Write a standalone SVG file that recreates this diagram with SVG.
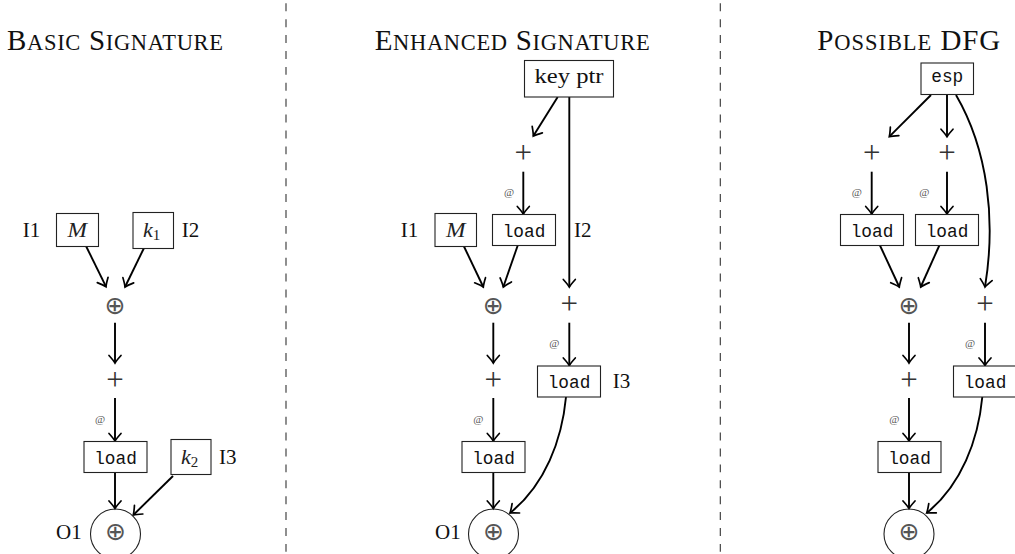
<svg xmlns="http://www.w3.org/2000/svg" width="1015" height="554" viewBox="0 0 1015 554">
<style>
.bx{fill:#fff;stroke:#222;stroke-width:1.1}
.ci{fill:none;stroke:#222;stroke-width:1.1}
.ar{fill:none;stroke:#000;stroke-width:1.9;marker-end:url(#ah)}
.sep{stroke:#333;stroke-width:1.1;stroke-dasharray:7.95 7.95}
.lb{font-family:"Liberation Serif","Times New Roman",serif;font-size:21px;fill:#111}
.ti{font-family:"Liberation Serif","Times New Roman",serif;fill:#111}
.big{font-size:29px}
.sm{font-size:22.5px}
.mi{font-family:"Liberation Serif","Times New Roman",serif;font-style:italic;font-size:22px;fill:#222}
.tt{font-family:"Liberation Mono","Courier New",monospace;font-size:17.8px;fill:#111;text-anchor:middle}
.rm{font-family:"Liberation Serif","Times New Roman",serif;font-size:22px;fill:#111;text-anchor:middle}
.pl{font-family:"Liberation Serif","Times New Roman",serif;font-size:31px;fill:#333;text-anchor:middle}
.op{font-family:"DejaVu Sans",sans-serif;font-size:25px;fill:#555;text-anchor:middle}
.at{font-family:"Liberation Serif","Times New Roman",serif;font-size:11px;fill:#555;text-anchor:middle}
</style>
<defs>
<marker id="ah" markerUnits="userSpaceOnUse" markerWidth="20" markerHeight="20" viewBox="-10 -10 20 20" refX="0" refY="0" orient="auto">
<path d="M-7.5,-6 Q-2.5,-1.5 0,0 Q-2.5,1.5 -7.5,6" fill="none" stroke="#000" stroke-width="1.7" stroke-linecap="round"/>
</marker>
</defs>

<g id="separators">
<line class="sep" x1="286" y1="3.3" x2="286" y2="554"/>
<line class="sep" x1="720.3" y1="3.3" x2="720.3" y2="554"/>
</g>

<g id="titles">
<text class="ti" x="7" y="50" textLength="216"><tspan class="big">B</tspan><tspan class="sm">ASIC</tspan><tspan class="big"> S</tspan><tspan class="sm">IGNATURE</tspan></text>
<text class="ti" x="374.7" y="50" textLength="275"><tspan class="big">E</tspan><tspan class="sm">NHANCED</tspan><tspan class="big"> S</tspan><tspan class="sm">IGNATURE</tspan></text>
<text class="ti" x="817.3" y="50" textLength="183"><tspan class="big">P</tspan><tspan class="sm">OSSIBLE</tspan><tspan class="big"> DFG</tspan></text>
</g>

<g id="connectors">
<!-- left -->
<line class="ar" x1="86" y1="246" x2="106" y2="286.7"/>
<line class="ar" x1="144" y1="248" x2="125" y2="287"/>
<line class="ar" x1="115" y1="322.7" x2="115" y2="363"/>
<line class="ar" x1="115" y1="398" x2="115" y2="441"/>
<line class="ar" x1="115" y1="472.5" x2="115" y2="508.5"/>
<line class="ar" x1="173" y1="476" x2="133.3" y2="515"/>
<!-- middle -->
<line class="ar" x1="557.7" y1="97" x2="533.3" y2="136"/>
<line class="ar" x1="523.3" y1="171.7" x2="523.3" y2="214"/>
<line class="ar" x1="569.3" y1="97" x2="569.3" y2="287"/>
<line class="ar" x1="464" y1="246.5" x2="483.3" y2="287"/>
<line class="ar" x1="517.7" y1="245.5" x2="503.3" y2="287"/>
<line class="ar" x1="493.3" y1="322.7" x2="493.3" y2="363"/>
<line class="ar" x1="493.3" y1="398" x2="493.3" y2="441"/>
<line class="ar" x1="569.3" y1="322.7" x2="569.3" y2="365.5"/>
<line class="ar" x1="493.3" y1="472.5" x2="493.3" y2="508.5"/>
<path class="ar" d="M566,397 C562,440 545,485 510,513"/>
<!-- right -->
<line class="ar" x1="931" y1="95" x2="889.3" y2="136.7"/>
<line class="ar" x1="947" y1="95" x2="947" y2="136.7"/>
<path class="ar" d="M956,95 C988,150 996,220 985,287"/>
<line class="ar" x1="871.7" y1="171.7" x2="871.7" y2="214"/>
<line class="ar" x1="947" y1="171.7" x2="947" y2="214"/>
<line class="ar" x1="880" y1="245.5" x2="899.3" y2="287"/>
<line class="ar" x1="939.3" y1="245.5" x2="920.7" y2="287"/>
<line class="ar" x1="909" y1="322.7" x2="909" y2="363"/>
<line class="ar" x1="909" y1="398" x2="909" y2="441"/>
<line class="ar" x1="985" y1="322.7" x2="985" y2="365.5"/>
<line class="ar" x1="909" y1="472.5" x2="909" y2="508.5"/>
<path class="ar" d="M982.3,397 C978.3,440 961.3,485 926.7,513"/>
</g>

<g id="edge-labels">
<text class="at" x="100" y="422.5">@</text>
<text class="at" x="509" y="196.2">@</text>
<text class="at" x="478.3" y="422.5">@</text>
<text class="at" x="554.3" y="346.8">@</text>
<text class="at" x="856.7" y="196.2">@</text>
<text class="at" x="924.3" y="196.2">@</text>
<text class="at" x="894.3" y="422.5">@</text>
<text class="at" x="970" y="346.8">@</text>
</g>

<!-- left panel nodes -->
<g id="L-M"><rect class="bx" x="56.5" y="213.5" width="42" height="33"/><text class="mi" x="67.5" y="237.3" textLength="19.5" lengthAdjust="spacingAndGlyphs">M</text><text class="lb" x="22.7" y="237">I1</text></g>
<g id="L-k1"><rect class="bx" x="133" y="212.5" width="40.5" height="36"/><text class="mi" x="143" y="237.3">k<tspan font-style="normal" font-size="15" dy="3">1</tspan></text><text class="lb" x="181.7" y="237">I2</text></g>
<g id="L-xor"><text class="op" x="115" y="314">⊕</text></g>
<g id="L-plus"><text class="pl" x="115" y="389.5">+</text></g>
<g id="L-load"><rect class="bx" x="84" y="441.5" width="63" height="31"/><text class="tt" x="115.5" y="464">load</text></g>
<g id="L-k2"><rect class="bx" x="171" y="439.5" width="40" height="35"/><text class="mi" x="181" y="464.3">k<tspan font-style="normal" font-size="15" dy="3">2</tspan></text><text class="lb" x="219" y="464">I3</text></g>
<g id="L-out"><circle class="ci" cx="115.5" cy="534" r="25"/><text class="op" x="115.5" y="540">⊕</text><text class="lb" x="56" y="539.3">O1</text></g>

<!-- middle panel nodes -->
<g id="M-keyptr"><rect class="bx" x="524.5" y="60.5" width="89" height="36.5"/><text class="rm" x="569" y="83.3" textLength="69" lengthAdjust="spacingAndGlyphs">key ptr</text></g>
<g id="M-plus1"><text class="pl" x="523.3" y="162.8">+</text></g>
<g id="M-M"><rect class="bx" x="435" y="213.5" width="41.5" height="33"/><text class="mi" x="446" y="237.3" textLength="19.5" lengthAdjust="spacingAndGlyphs">M</text><text class="lb" x="400.7" y="237">I1</text></g>
<g id="M-load1"><rect class="bx" x="492.5" y="214.5" width="63" height="31"/><text class="tt" x="524" y="237.3">load</text><text class="lb" x="574" y="237">I2</text></g>
<g id="M-xor"><text class="op" x="493.3" y="314">⊕</text></g>
<g id="M-plus2"><text class="pl" x="569.3" y="313.5">+</text></g>
<g id="M-plus3"><text class="pl" x="493.3" y="389.5">+</text></g>
<g id="M-load2"><rect class="bx" x="537.5" y="366" width="63" height="31"/><text class="tt" x="569" y="388.3">load</text><text class="lb" x="612.7" y="388.3">I3</text></g>
<g id="M-load3"><rect class="bx" x="462" y="441.5" width="63" height="31"/><text class="tt" x="493.5" y="464">load</text></g>
<g id="M-out"><circle class="ci" cx="493.5" cy="534" r="25"/><text class="op" x="493.5" y="540">⊕</text><text class="lb" x="435" y="539.3">O1</text></g>

<!-- right panel nodes -->
<g id="R-esp"><rect class="bx" x="921" y="63" width="52.5" height="31.5"/><text class="tt" x="947.3" y="81.7">esp</text></g>
<g id="R-plus1"><text class="pl" x="871.7" y="162.8">+</text></g>
<g id="R-plus2"><text class="pl" x="947" y="162.8">+</text></g>
<g id="R-load1"><rect class="bx" x="840.5" y="214.5" width="63" height="31"/><text class="tt" x="872" y="237.3">load</text></g>
<g id="R-load2"><rect class="bx" x="915.5" y="214.5" width="63" height="31"/><text class="tt" x="947" y="237.3">load</text></g>
<g id="R-xor"><text class="op" x="909" y="314">⊕</text></g>
<g id="R-plus3"><text class="pl" x="985" y="313.5">+</text></g>
<g id="R-plus4"><text class="pl" x="909" y="389.5">+</text></g>
<g id="R-load3"><rect class="bx" x="953.5" y="366" width="63" height="31"/><text class="tt" x="985" y="388.3">load</text></g>
<g id="R-load4"><rect class="bx" x="878" y="441.5" width="63" height="31"/><text class="tt" x="909.5" y="464">load</text></g>
<g id="R-out"><circle class="ci" cx="909" cy="534" r="25"/><text class="op" x="909" y="540">⊕</text></g>
</svg>
